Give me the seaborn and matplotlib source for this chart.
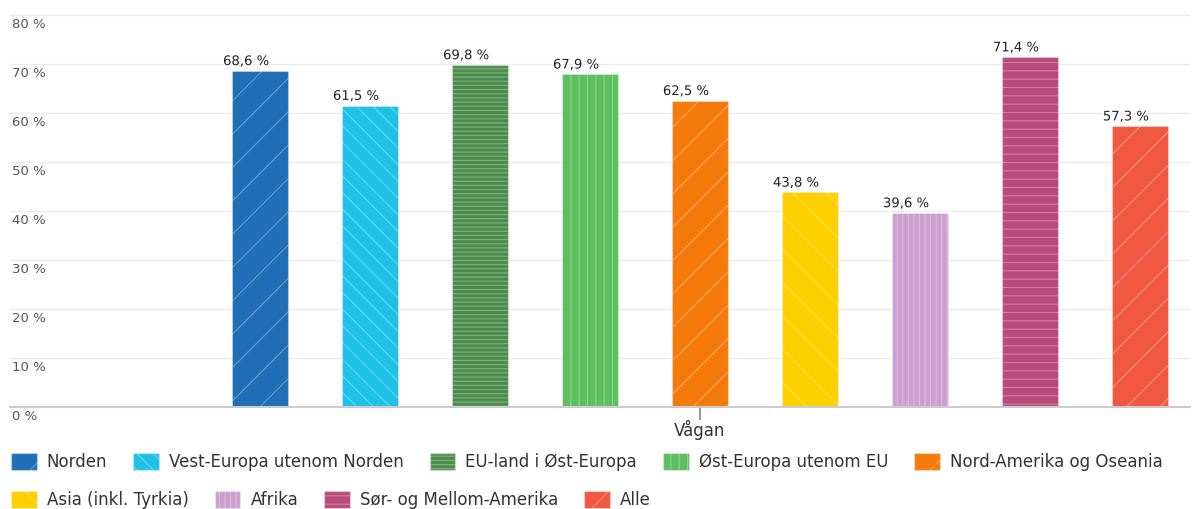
import matplotlib.pyplot as plt
import matplotlib.patheffects as pe
from matplotlib.patches import Patch
from matplotlib.transforms import ScaledTranslation
import seaborn as sns
import pandas as pd

# data lest av fra figuren
kommune = 'Vågan'
grupper = ['Norden', 'Vest-Europa utenom Norden', 'EU-land i Øst-Europa',
           'Øst-Europa utenom EU', 'Nord-Amerika og Oseania', 'Asia (inkl. Tyrkia)',
           'Afrika', 'Sør- og Mellom-Amerika', 'Alle']
andel = [68.6, 61.5, 69.8, 67.9, 62.5, 43.8, 39.6, 71.4, 57.3]
farger = ['#1f6eb6', '#20c1e6', '#4d8d4c', '#5dbf5f', '#f57a0c',
          '#fed000', '#cc9fd0', '#b84b7a', '#f05842']
monster = ['/', '\\\\', '----', '||', '/', '\\', '|||', '--', '/']
yticks = [0, 10, 20, 30, 40, 50, 60, 70, 80]

sns.set_theme(style='white')
plt.rcParams['font.family'] = ['DejaVu Sans']
plt.rcParams['hatch.linewidth'] = 0.8
kant = (1, 1, 1, 0.3)
plt.rcParams['hatch.color'] = kant

fig = plt.figure(figsize=(11.92, 5.09), dpi=100)
ax = fig.add_axes([10 / 1192, 102 / 509, 1180 / 1192, 392 / 509])

df = pd.DataFrame({'Kommune': [kommune] * len(grupper), 'Gruppe': grupper, 'Andel': andel})
sns.barplot(data=df, x='Kommune', y='Andel', hue='Gruppe', hue_order=grupper,
            palette=farger, width=0.8, gap=0.49, saturation=1, legend=False,
            edgecolor=kant, linewidth=0.8, ax=ax)

for cont, h, v in zip(ax.containers, monster, andel):
    for p in cont:
        p.set_hatch(h)
    tekster = ax.bar_label(cont, labels=[f'{v:.1f} %'.replace('.', ',')], padding=2,
                           fontsize=9.5, color='#222222',
                           path_effects=[pe.withStroke(linewidth=2, foreground='white')])
    for t in tekster:
        t.xyann = (-10, 2)

ax.set_xlim(-0.5576, 0.3960)
ax.set_ylim(0, 80)
ax.set_xlabel('')
ax.set_ylabel('')
ax.set_yticks(yticks, labels=[f'{t} %' for t in yticks])
ax.yaxis.grid(True, color='#ebebeb', lw=1)
ax.set_axisbelow(True)
for s in ['top', 'right', 'left']:
    ax.spines[s].set_visible(False)
ax.spines['bottom'].set_color('#cccccc')
ax.spines['bottom'].set_linewidth(1.5)

ax.tick_params(axis='y', left=False, pad=-2, labelsize=9.5, labelcolor='#555555')
off = ScaledTranslation(8 / 100, -3 / 100, fig.dpi_scale_trans)
for lab in ax.get_yticklabels():
    lab.set_ha('left')
    lab.set_va('top')
    lab.set_transform(lab.get_transform() + off)
ax.tick_params(axis='x', bottom=True, length=9, width=1.5, color='#999999',
               labelsize=12, labelcolor='#333333', pad=0)

handles = [Patch(facecolor=f, edgecolor=kant, hatch=h, label=g)
           for g, f, h in zip(grupper, farger, monster)]
opts = dict(frameon=False, fontsize=12, handlelength=1.55, handleheight=1.25,
            handletextpad=0.6, columnspacing=1.55, borderpad=0, borderaxespad=0,
            loc='center left', labelcolor='#333333')
fig.legend(handles=handles[:5], ncol=5, bbox_to_anchor=(11 / 1192, 1 - 462 / 509), **opts)
fig.legend(handles=handles[5:], ncol=4, bbox_to_anchor=(11 / 1192, 1 - 500 / 509), **opts)

fig.savefig('out.png', dpi=100)
